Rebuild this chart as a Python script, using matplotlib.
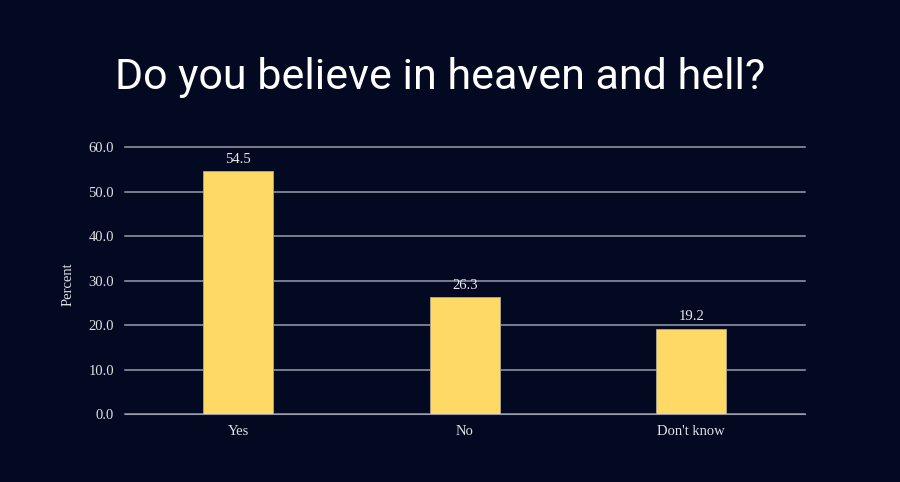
import matplotlib.pyplot as plt

categories = ["Yes", "No", "Don't know"]
values = [54.5, 26.3, 19.2]
yticks = [0, 10, 20, 30, 40, 50, 60]

bg = "#020920"
fig = plt.figure(figsize=(9, 4.82), dpi=100, facecolor=bg)
ax = fig.add_axes([0.139, 0.141, 0.755, 0.554], facecolor=bg)

x = range(len(categories))
bars = ax.bar(x, values, width=0.31, color="#ffd966", edgecolor="#b0a890", linewidth=0.6, zorder=3)
for b, v in zip(bars, values):
    ax.text(b.get_x() + b.get_width() / 2, v + 1.2, f"{v:.1f}", ha="center", va="bottom",
            color="#e8e8ee", fontsize=10.5, family="Liberation Serif")

ax.set_xlim(-0.5, 2.5)
ax.set_ylim(0, 60)
ax.set_yticks(yticks)
ax.set_yticklabels([f"{t:.1f}" for t in yticks])
ax.set_xticks(list(x))
ax.set_xticklabels(categories)
ax.yaxis.grid(True, color="#9a9cae", linewidth=1.1, zorder=0)
for gl in ax.get_ygridlines():
    gl.set_clip_on(False)
ax.tick_params(length=0, colors="#e0e0e8", labelsize=10.5, pad=8)
for lab in ax.get_xticklabels() + ax.get_yticklabels():
    lab.set_family("Liberation Serif")
for s in ax.spines.values():
    s.set_visible(False)
ax.spines["bottom"].set_visible(True)
ax.spines["bottom"].set_color("#9a9cae")

fig.text(0.076, 0.41, "Percent", rotation=90, ha="center", va="center",
         color="#e0e0e8", fontsize=10.5, family="Liberation Serif")
fig.text(0.489, 0.84, "Do you believe in heaven and hell?", ha="center", va="center",
         color="white", fontsize=31, family="Roboto")

plt.savefig("out.png", dpi=100, facecolor=bg)
